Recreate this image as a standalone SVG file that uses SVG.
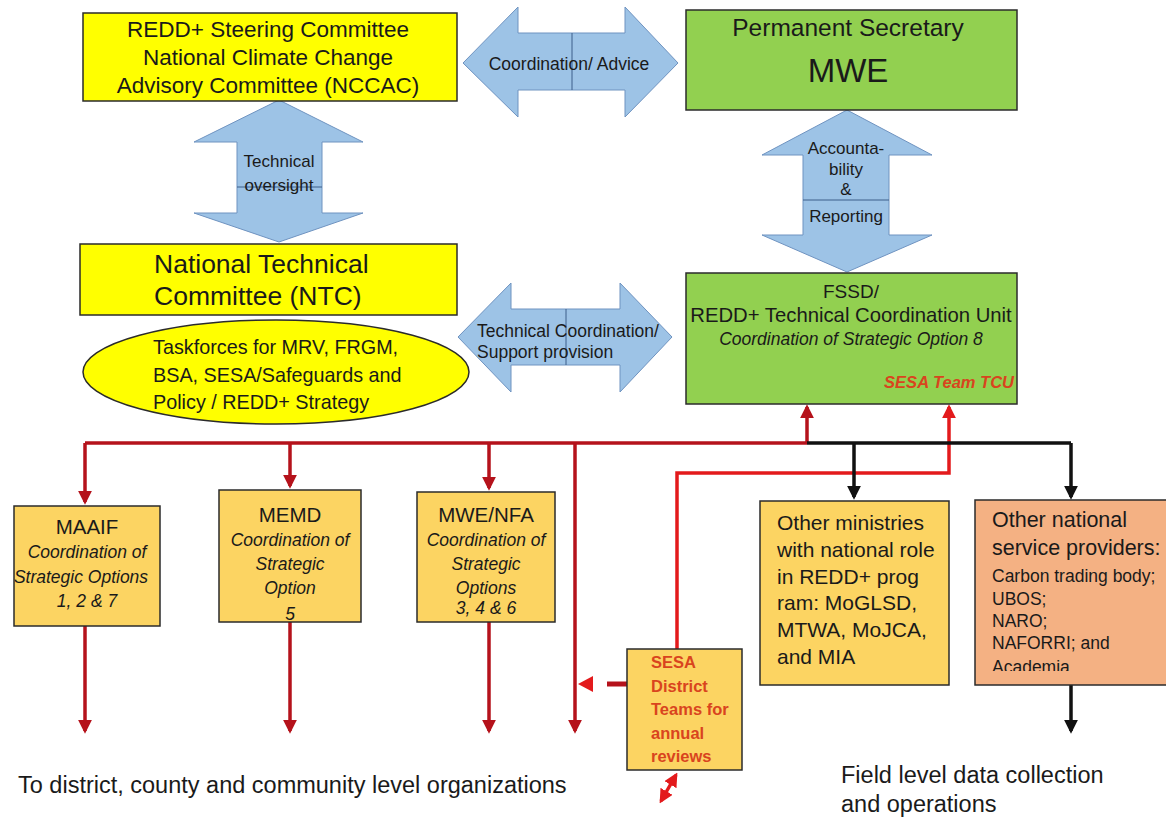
<svg xmlns="http://www.w3.org/2000/svg" width="1166" height="821" viewBox="0 0 1166 821">
<style>
text{font-family:"Liberation Sans",Arial,sans-serif;fill:#1a1a1a}
.box{stroke:#2b2b2b;stroke-width:1.5}
.yel{fill:#ffff00}
.grn{fill:#92d050}
.org{fill:#fcd462}
.sal{fill:#f4b183}
.arw{fill:#9dc3e6;stroke:#6f93c0;stroke-width:1}
.div{stroke:#3d5f8a;stroke-width:1}
.c{text-anchor:middle}
.i{font-style:italic}
.red{fill:#d9441e;font-weight:bold}
.rl{fill:none;stroke:#b5121b;stroke-width:3.5}
.rb{fill:none;stroke:#e31a1c;stroke-width:3.5}
.bl{fill:none;stroke:#111;stroke-width:3.5}
</style>
<defs>
<marker id="ar" viewBox="0 0 10 10" refX="8" refY="5" markerWidth="14" markerHeight="14" markerUnits="userSpaceOnUse" orient="auto"><path d="M0,0 L10,5 L0,10 z" fill="#b5121b"/></marker>
<marker id="arb" viewBox="0 0 10 10" refX="8" refY="5" markerWidth="14" markerHeight="14" markerUnits="userSpaceOnUse" orient="auto-start-reverse"><path d="M0,0 L10,5 L0,10 z" fill="#e31a1c"/></marker>
<marker id="ak" viewBox="0 0 10 10" refX="8" refY="5" markerWidth="14" markerHeight="14" markerUnits="userSpaceOnUse" orient="auto"><path d="M0,0 L10,5 L0,10 z" fill="#111"/></marker>
<clipPath id="clipON"><rect x="975" y="500" width="191" height="171"/></clipPath>
</defs>

<g id="connectors">
<path class="rl" d="M85,443 H807"/>
<path class="rl" d="M85,443 V502" marker-end="url(#ar)"/>
<path class="rl" d="M290,443 V486" marker-end="url(#ar)"/>
<path class="rl" d="M489,443 V488" marker-end="url(#ar)"/>
<path class="rl" d="M575,443 V731" marker-end="url(#ar)"/>
<path class="rl" d="M807,443 V407" marker-end="url(#ar)"/>
<path class="rb" d="M677,649 V473 H949 V407" marker-end="url(#arb)"/>
<path class="rl" d="M85,626 V731" marker-end="url(#ar)"/>
<path class="rl" d="M290,622 V731" marker-end="url(#ar)"/>
<path class="rl" d="M489,622 V731" marker-end="url(#ar)"/>
<path class="bl" d="M807,443 H1071"/>
<path class="bl" d="M854,443 V497" marker-end="url(#ak)"/>
<path class="bl" d="M1071,443 V497" marker-end="url(#ak)"/>
<path class="bl" d="M1071,685 V731" marker-end="url(#ak)"/>
<path d="M607,684 H627" stroke="#b5121b" stroke-width="5"/>
<path d="M578,684 L593,676 L593,692 z" fill="#e31a1c"/>
<path class="rb" d="M676,775 L661,801" marker-start="url(#arb)" marker-end="url(#arb)"/>
</g>

<g id="coord-advice">
<polygon class="arw" points="463,63 518,7 518,33 625,33 625,7 678,63 625,117 625,90 518,90 518,117"/>
<line class="div" x1="572" y1="33" x2="572" y2="90"/>
<text class="c" x="569" y="70" font-size="17.5">Coordination/ Advice</text>
</g>

<g id="tech-oversight">
<polygon class="arw" points="279,100 363,142 322,142 322,213 363,213 279,242 194,213 237,213 237,142 194,142"/>
<line class="div" x1="237" y1="187" x2="322" y2="187"/>
<text class="c" x="279" y="167" font-size="17">Technical</text>
<text class="c" x="279" y="191" font-size="17">oversight</text>
</g>

<g id="accountability">
<polygon class="arw" points="847,110 932,155 889,155 889,235 932,235 847,272 762,235 803,235 803,155 762,155"/>
<line class="div" x1="803" y1="200" x2="889" y2="200"/>
<text class="c" x="846" y="154" font-size="17">Accounta-</text>
<text class="c" x="846" y="175" font-size="17">bility</text>
<text class="c" x="846" y="195" font-size="17">&amp;</text>
<text class="c" x="846" y="222" font-size="17">Reporting</text>
</g>

<g id="tech-coordination">
<polygon class="arw" points="458,337 511,283 511,309 620,309 620,283 672,337 620,392 620,365 511,365 511,392"/>
<line class="div" x1="566" y1="309" x2="566" y2="365"/>
<text x="477" y="337" font-size="17.5">Technical Coordination/</text>
<text x="477" y="358" font-size="17.5">Support  provision</text>
</g>

<g id="steering-committee">
<rect class="box yel" x="83" y="13" width="374" height="88"/>
<text class="c" x="268" y="37" font-size="22.5">REDD+ Steering Committee</text>
<text class="c" x="268" y="65" font-size="22.5">National Climate Change</text>
<text class="c" x="268" y="93" font-size="22.5">Advisory  Committee (NCCAC)</text>
</g>

<g id="permanent-secretary">
<rect class="box grn" x="686" y="10" width="331" height="100"/>
<text class="c" x="848" y="36" font-size="24.5">Permanent Secretary</text>
<text class="c" x="848" y="82" font-size="33">MWE</text>
</g>

<g id="ntc">
<rect class="box yel" x="80" y="244" width="377" height="71"/>
<text x="154" y="273" font-size="26.5">National Technical</text>
<text x="154" y="305" font-size="26.5">Committee (NTC)</text>
</g>

<g id="taskforces">
<ellipse cx="276" cy="372" rx="193" ry="52" fill="#ffff00" stroke="#2b2b2b" stroke-width="1.5"/>
<text x="153" y="354" font-size="19.8">Taskforces for MRV, FRGM,</text>
<text x="153" y="382" font-size="19.8">BSA, SESA/Safeguards and</text>
<text x="153" y="409" font-size="19.8">Policy / REDD+ Strategy</text>
</g>

<g id="fssd">
<rect class="box grn" x="686" y="273" width="331" height="131"/>
<text class="c" x="851" y="298" font-size="19">FSSD/</text>
<text class="c" x="851" y="322" font-size="20.3">REDD+ Technical Coordination Unit</text>
<text class="c i" x="851" y="345" font-size="17.5">Coordination of Strategic Option 8</text>
<text class="red i" x="1014" y="388" font-size="16.5" text-anchor="end">SESA Team TCU</text>
</g>

<g id="maaif">
<rect class="box org" x="14" y="506" width="146" height="120"/>
<text class="c" x="87" y="534" font-size="20.5">MAAIF</text>
<text class="c i" x="87" y="558" font-size="17.5">Coordination of</text>
<text class="c i" x="81" y="583" font-size="17.5">Strategic Options</text>
<text class="c i" x="87" y="607" font-size="17.5">1, 2 &amp; 7</text>
</g>

<g id="memd">
<rect class="box org" x="219" y="490" width="142" height="132"/>
<text class="c" x="290" y="522" font-size="20.5">MEMD</text>
<text class="c i" x="290" y="546" font-size="17.5">Coordination of</text>
<text class="c i" x="290" y="570" font-size="17.5">Strategic</text>
<text class="c i" x="290" y="594" font-size="17.5">Option</text>
<text class="c i" x="290" y="620" font-size="17.5">5</text>
</g>

<g id="mwe-nfa">
<rect class="box org" x="417" y="492" width="138" height="130"/>
<text class="c" x="486" y="522" font-size="20.5">MWE/NFA</text>
<text class="c i" x="486" y="546" font-size="17.5">Coordination of</text>
<text class="c i" x="486" y="570" font-size="17.5">Strategic</text>
<text class="c i" x="486" y="594" font-size="17.5">Options</text>
<text class="c i" x="486" y="614" font-size="17.5">3, 4 &amp; 6</text>
</g>

<g id="other-ministries">
<rect class="box org" x="760" y="501" width="189" height="184"/>
<text x="777" y="530" font-size="21">Other ministries</text>
<text x="777" y="557" font-size="21">with national role</text>
<text x="777" y="584" font-size="21">in REDD+ prog</text>
<text x="777" y="610" font-size="21">ram: MoGLSD,</text>
<text x="777" y="637" font-size="21">MTWA, MoJCA,</text>
<text x="777" y="664" font-size="21">and MIA</text>
</g>

<g id="other-national">
<rect class="box sal" x="975" y="500" width="195" height="185"/>
<text x="992" y="527" font-size="21.5">Other national</text>
<text x="992" y="555" font-size="21.5">service providers:</text>
<text x="992" y="582" font-size="17.5">Carbon trading body;</text>
<text x="992" y="605" font-size="17.5">UBOS;</text>
<text x="992" y="627" font-size="17.5">NARO;</text>
<text x="992" y="649" font-size="17.5">NAFORRI; and</text>
<text x="992" y="673" font-size="17.5" clip-path="url(#clipON)">Academia</text>
</g>

<g id="sesa-district">
<rect class="box org" x="627" y="649" width="115" height="121"/>
<text class="red" x="651" y="668" font-size="16.5">SESA</text>
<text class="red" x="651" y="692" font-size="16.5">District</text>
<text class="red" x="651" y="715" font-size="16.5">Teams for</text>
<text class="red" x="651" y="739" font-size="16.5">annual</text>
<text class="red" x="651" y="762" font-size="16.5">reviews</text>
</g>

<g id="labels">
<text x="18" y="793" font-size="23.5">To district, county and community level organizations</text>
<text x="841" y="783" font-size="23.5">Field level data collection</text>
<text x="841" y="812" font-size="23.5">and operations</text>
</g>
</svg>
